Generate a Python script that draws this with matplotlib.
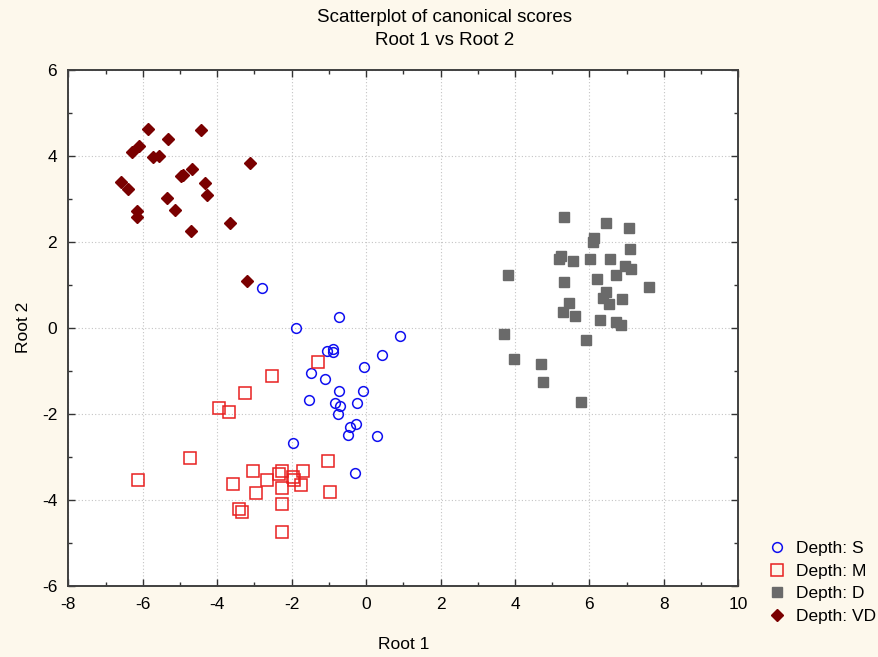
import matplotlib.pyplot as plt
from matplotlib.ticker import MultipleLocator

# canonical scores (Root 1, Root 2) per depth class
s_root1 = [-2.80, -0.72, -1.88, 0.91, -1.06, -0.90, -0.88, 0.43, -0.06, -1.49,
           -1.11, -0.72, -0.09, -1.52, -0.84, -0.70, -0.24, -0.75, -0.27, -0.43,
           -0.49, 0.30, -1.95, -0.29]
s_root2 = [0.92, 0.26, -0.01, -0.19, -0.55, -0.50, -0.57, -0.64, -0.92, -1.05,
           -1.19, -1.47, -1.47, -1.68, -1.74, -1.82, -1.76, -2.01, -2.24, -2.32,
           -2.49, -2.52, -2.69, -3.37]

m_root1 = [-1.30, -2.53, -3.26, -3.94, -3.69, -4.73, -6.13, -1.02, -3.05, -2.26,
           -2.33, -1.70, -2.65, -1.97, -1.94, -3.58, -1.76, -2.26, -0.97, -2.96,
           -2.26, -3.42, -3.33, -2.26]
m_root2 = [-0.79, -1.12, -1.52, -1.86, -1.97, -3.03, -3.54, -3.10, -3.33, -3.33,
           -3.40, -3.33, -3.54, -3.47, -3.53, -3.64, -3.65, -3.73, -3.81, -3.84,
           -4.11, -4.21, -4.29, -4.74]

d_root1 = [5.32, 6.45, 7.07, 6.13, 6.09, 7.09, 5.23, 5.19, 5.55, 6.02,
           6.55, 6.96, 7.13, 3.82, 6.72, 6.21, 5.32, 7.61, 6.45, 6.36,
           6.52, 6.88, 5.44, 5.28, 5.61, 6.28, 6.72, 6.84, 3.71, 5.91,
           3.98, 4.71, 4.75, 5.78]
d_root2 = [2.58, 2.44, 2.31, 2.08, 1.99, 1.83, 1.67, 1.59, 1.56, 1.59,
           1.59, 1.43, 1.36, 1.22, 1.22, 1.13, 1.06, 0.95, 0.83, 0.69,
           0.55, 0.67, 0.58, 0.36, 0.27, 0.18, 0.13, 0.07, -0.15, -0.29,
           -0.72, -0.84, -1.26, -1.73]

vd_root1 = [-5.85, -4.43, -5.32, -6.09, -6.29, -5.72, -5.57, -3.12, -4.67, -4.97,
            -4.93, -6.58, -6.40, -4.32, -4.28, -5.36, -5.13, -6.16, -6.16, -3.66,
            -4.70, -3.21]
vd_root2 = [4.61, 4.60, 4.39, 4.23, 4.09, 3.96, 3.99, 3.82, 3.68, 3.53,
            3.56, 3.39, 3.23, 3.37, 3.08, 3.02, 2.74, 2.72, 2.58, 2.44,
            2.24, 1.09]

plt.rcParams['font.family'] = ['Liberation Sans', 'DejaVu Sans']
plt.rcParams['axes.unicode_minus'] = False

fig = plt.figure(figsize=(8.79, 6.57), dpi=100)
fig.patch.set_facecolor('#FDF8EC')
ax = fig.add_axes([0.0777, 0.1085, 0.7622, 0.7854])
ax.set_facecolor('white')

h1, = ax.plot(s_root1, s_root2, 'o', ms=7, mfc='none', mec='#1010F0', mew=1.1,
              ls='none', label='Depth: S')
h2, = ax.plot(m_root1, m_root2, 's', ms=8, mfc='none', mec='#E82020', mew=1.1,
              ls='none', label='Depth: M')
h3, = ax.plot(d_root1, d_root2, 's', ms=7.5, mfc='#6A6A6A', mec='#6A6A6A',
              ls='none', label='Depth: D')
h4, = ax.plot(vd_root1, vd_root2, 'D', ms=6, mfc='#7A0000', mec='#7A0000',
              ls='none', label='Depth: VD')

ax.set_xlim(-8, 10)
ax.set_ylim(-6, 6)
ax.xaxis.set_major_locator(MultipleLocator(2))
ax.xaxis.set_minor_locator(MultipleLocator(1))
ax.yaxis.set_major_locator(MultipleLocator(2))
ax.yaxis.set_minor_locator(MultipleLocator(1))
ax.tick_params(which='both', direction='in', top=True, right=True,
               color='#333333', labelsize=12.5, pad=8)
ax.tick_params(which='major', length=5, width=1)
ax.tick_params(which='minor', length=3, width=1)
ax.grid(True, which='major', ls=(0, (1, 2)), color='#C4C4C4', lw=0.8)
ax.set_axisbelow(True)
for sp in ax.spines.values():
    sp.set_color('#404040')
    sp.set_linewidth(1.4)

ax.set_xlabel('Root 1', fontsize=12.5, labelpad=18)
ax.set_ylabel('Root 2', fontsize=12.5, labelpad=8)

fig.text(0.506, 0.974, 'Scatterplot of canonical scores', ha='center', va='center',
         fontsize=13.5)
fig.text(0.506, 0.939, 'Root 1 vs Root 2', ha='center', va='center',
         fontsize=13.5)

fig.legend(handles=[h1, h2, h3, h4], loc='upper left',
           bbox_to_anchor=(0.866, 0.187), frameon=False, fontsize=12.5,
           handlelength=1.0, handletextpad=0.6, labelspacing=0.43,
           borderaxespad=0)

fig.savefig('out.png', dpi=100, facecolor=fig.get_facecolor())
